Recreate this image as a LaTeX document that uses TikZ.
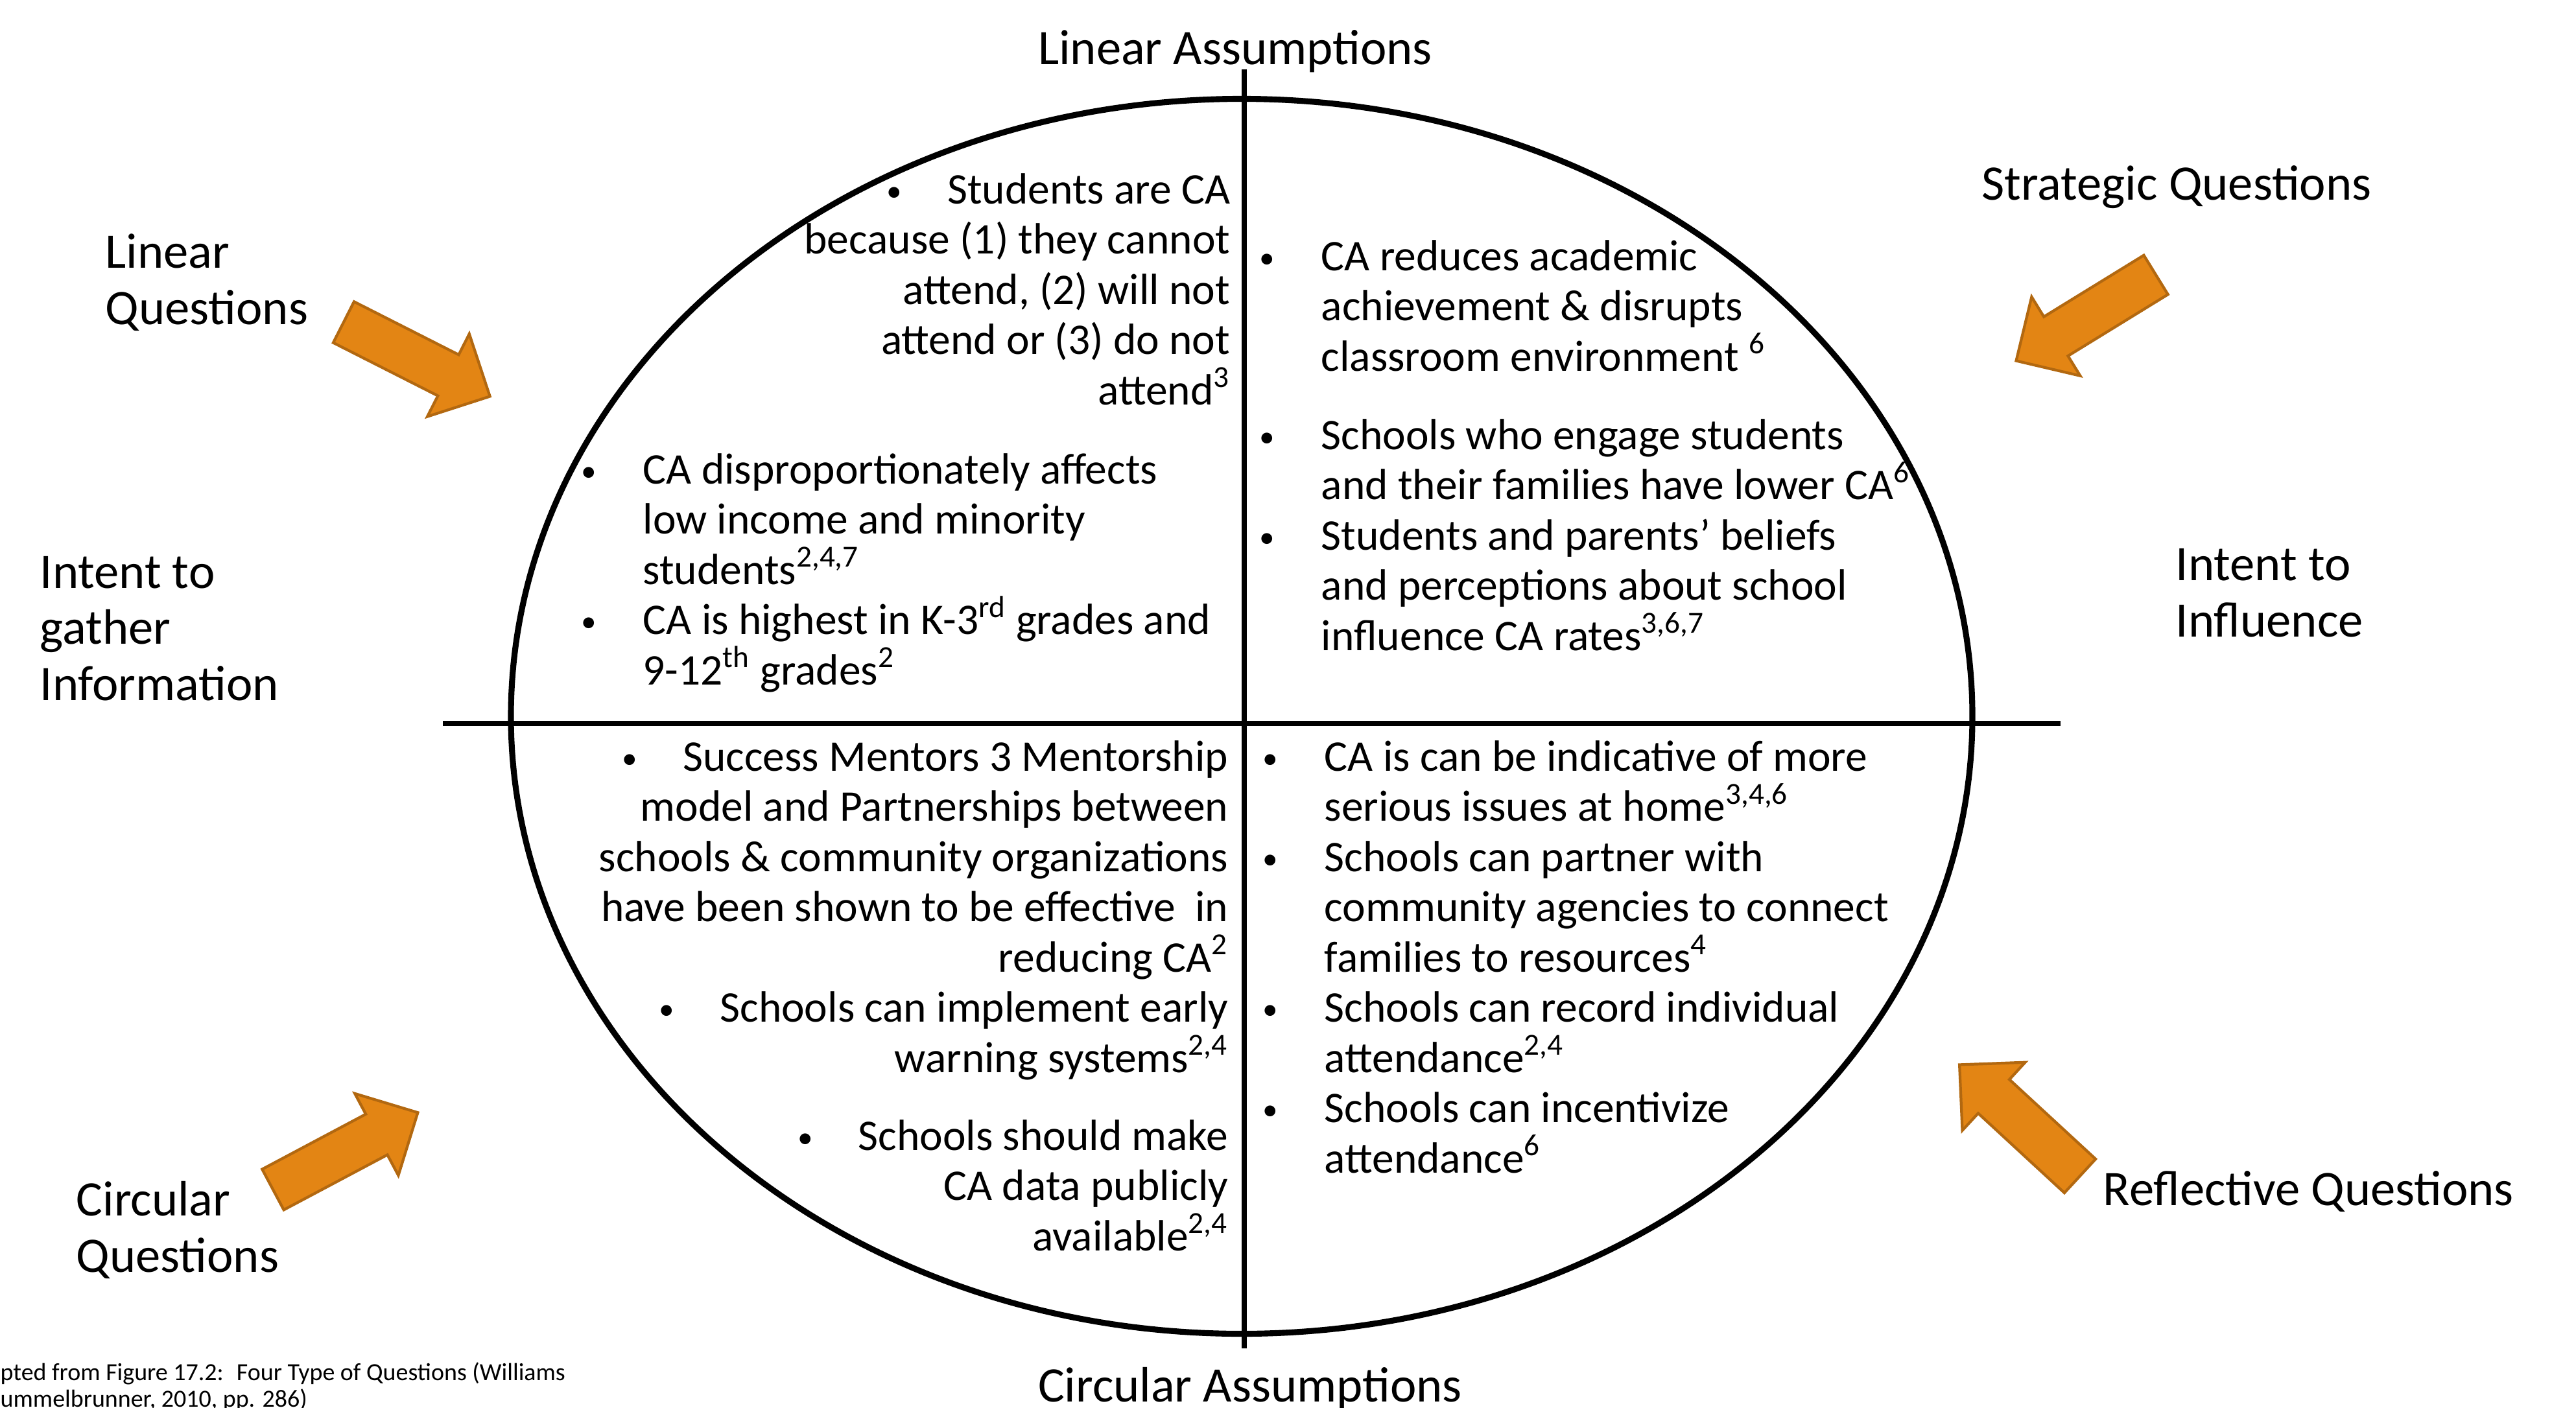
\documentclass[tikz,border=0pt]{standalone}
\usepackage{fontspec}
\setmainfont{Carlito}
\usetikzlibrary{shapes.geometric}

\definecolor{arroworange}{RGB}{227,133,20}
\definecolor{arrowedge}{RGB}{178,104,16}

\newcommand{\smallbul}{\raisebox{0.12ex}{\scalebox{0.7}{\textbullet}}}
\newcommand{\lbul}{\llap{\smallbul\hspace{0.72cm}}}
\newcommand{\rbul}{\smallbul\hspace{0.7cm}}

\begin{document}
\begin{tikzpicture}[x=1cm, y=-1cm,
                    quad text/.style={inner sep=0pt, font=\fontsize{19.2}{22.05}\selectfont},
                    side label/.style={inner sep=0pt, align=left, anchor=base west, font=\fontsize{21.8}{24.5}\selectfont},
                    block arrow/.pic={\draw[fill=arroworange, draw=arrowedge, line width=1.2pt]
                      (0,-0.355) -- (1.81,-0.355) -- (1.81,-0.715) -- (2.53,0) -- (1.81,0.715) -- (1.81,0.355) -- (0,0.355) -- cycle;}]

  \useasboundingbox (0,0) rectangle (39.73,21.71);

  \node[draw, ellipse, line width=2.6pt, minimum width=22.54cm, minimum height=19.05cm, inner sep=0pt] (0) at (19.15,11.05) {};
  \coordinate (n) at (19.19,1.07);
  \coordinate (s) at (19.19,20.8);
  \coordinate (w) at (6.83,11.16);
  \coordinate (e) at (31.78,11.16);
  \draw[line width=2.3pt] (n) -- (s);
  \draw[line width=2.3pt] (w) -- (e);

  % axis labels (multi-line nodes sit on their last line)
  \node[side label, anchor=base] (1) at (19.05,1.00) {Linear Assumptions};
  \node[side label, anchor=base] (2) at (19.28,21.62) {Circular Assumptions};
  \node[side label] (3) at (1.62,5.00) {Linear\\Questions};
  \node[side label] (4) at (30.56,3.08) {Strategic Questions};
  \node[side label] (5) at (0.61,10.80) {Intent to\\gather\\Information};
  \node[side label] (6) at (33.55,9.82) {Intent to\\Influence};
  \node[side label] (7) at (1.17,19.62) {Circular\\Questions};
  \node[side label] (8) at (32.43,18.59) {Reflective Questions};

  % upper left
  \node[quad text, align=right, anchor=base east] (9) at (18.98,6.24)
    {\rbul Students are CA\\because (1) they cannot\\attend, (2) will not\\attend or (3) do not\\attend\textsuperscript{3}};
  \node[quad text, align=left, anchor=base west] (10) at (9.91,10.56)
    {\lbul CA disproportionately affects\\low income and minority\\students\textsuperscript{2,4,7}\\
     \lbul CA is highest in K-3\textsuperscript{rd} grades and\\9-12\textsuperscript{th} grades\textsuperscript{2}};

  % upper right
  \node[quad text, align=left, anchor=base west] (11) at (20.37,5.72)
    {\lbul CA reduces academic\\achievement \& disrupts\\classroom environment \textsuperscript{6}};
  \node[quad text, align=left, anchor=base west] (12) at (20.37,10.03)
    {\lbul Schools who engage students\\and their families have lower CA\textsuperscript{6}\\
     \lbul Students and parents’ beliefs\\and perceptions about school\\influence CA rates\textsuperscript{3,6,7}};

  % lower left
  \node[quad text, align=right, anchor=base east] (13) at (18.95,16.54)
    {\rbul Success Mentors 3 Mentorship\\model and Partnerships between\\schools \& community organizations\\
     have been shown to be effective~ in\\reducing CA\textsuperscript{2}\\
     \rbul Schools can implement early\\warning systems\textsuperscript{2,4}};
  \node[quad text, align=right, anchor=base east] (14) at (18.95,19.29)
    {\rbul Schools should make\\CA data publicly\\available\textsuperscript{2,4}};

  % lower right
  \node[quad text, align=left, anchor=base west] (15) at (20.42,18.09)
    {\lbul CA is can be indicative of more\\serious issues at home\textsuperscript{3,4,6}\\
     \lbul Schools can partner with\\community agencies to connect\\families to resources\textsuperscript{4}\\
     \lbul Schools can record individual\\attendance\textsuperscript{2,4}\\
     \lbul Schools can incentivize\\attendance\textsuperscript{6}};

  % source note
  \node[inner sep=0pt, align=left, anchor=base west, font=\fontsize{10.8}{11.5}\selectfont] (16) at (0,21.70)
    {pted from Figure 17.2:~ Four Type of Questions (Williams\\ummelbrunner, 2010, pp. 286)};

  % orange arrows
  \pic[rotate=-26.9] at (5.30,4.97) {block arrow};
  \pic[rotate=-148.4] at (33.25,4.24) {block arrow};
  \pic[rotate=28] at (4.21,18.35) {block arrow};
  \pic[rotate=137.3] at (32.08,18.14) {block arrow};

\end{tikzpicture}
\end{document}
